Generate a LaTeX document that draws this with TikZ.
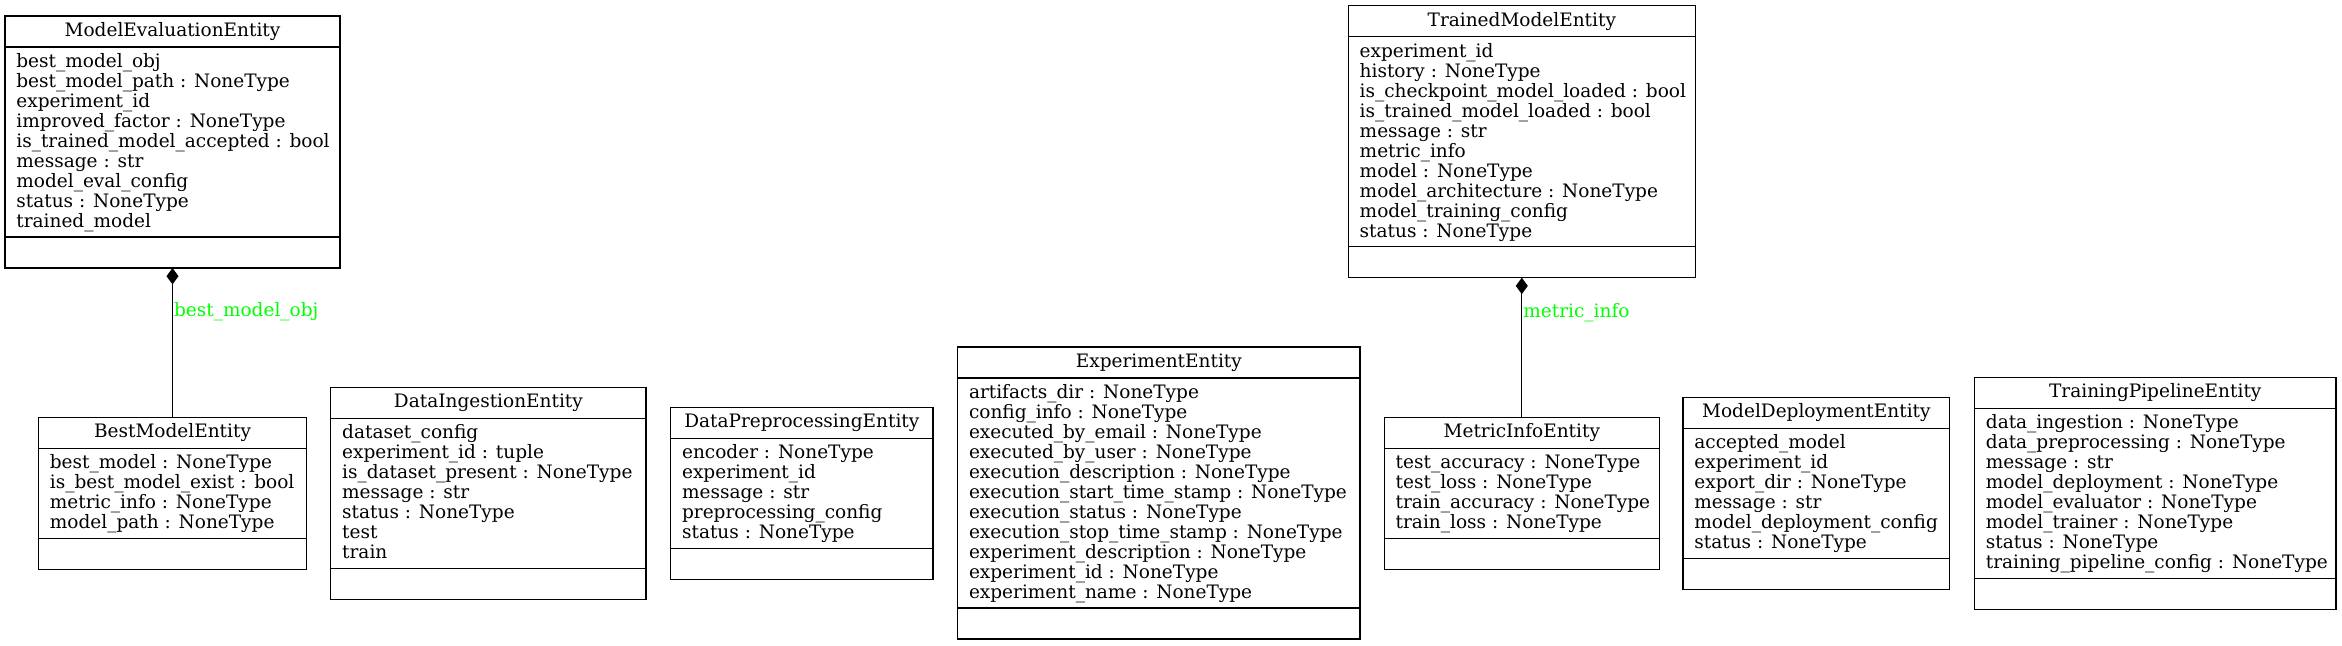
\documentclass[tikz,border=0pt]{standalone}
\usepackage{fontspec}
\setmainfont{DejaVu Serif}
\usetikzlibrary{arrows.meta}
\definecolor{rolegreen}{RGB}{0,255,0}
\tikzset{
  clsbox/.style={draw=black, line width=0.6pt, anchor=north west, inner sep=0pt, outer sep=0pt},
  divline/.style={draw=black, line width=0.6pt},
  titletext/.style={anchor=base, inner sep=0pt, font=\fontsize{9.25}{10}\selectfont},
  attrtext/.style={anchor=north west, inner sep=0pt, align=left, font=\fontsize{9.25}{10}\selectfont},
  comp/.style={draw=black, line width=0.6pt, -{Diamond[length=8.2pt,width=6pt]}},
  rolelabel/.style={anchor=west, inner sep=0.5pt, text=rolegreen, font=\fontsize{9.25}{10}\selectfont},
}
\newcommand\mkclass[7]{%
  \pgfmathsetmacro\mkw{(#4-#2)*0.5}%
  \pgfmathsetmacro\mkh{(72+20*#5)*0.5}%
  \node[clsbox, minimum width=\mkw pt, minimum height=\mkh pt] (#1) at (#2,#3) {};
  \draw[divline] ([yshift=-15.5pt]#1.north west) -- ([yshift=-15.5pt]#1.north east);
  \draw[divline] ([yshift=15.5pt]#1.south west) -- ([yshift=15.5pt]#1.south east);
  \node[titletext] (#1-t) at ([yshift=-10.15pt]#1.north) {#6};
  \node[attrtext] (#1-a) at ([xshift=5.5pt,yshift=-17.5pt]#1.north west) {\rule{0pt}{8pt}#7};
}
\begin{document}
\begin{tikzpicture}[x=0.5pt,y=-0.5pt]
\useasboundingbox (0,0) rectangle (2342,645);

\mkclass{ME}{5}{16}{340}{9}{ModelEvaluationEntity}{best\_model\_obj\\best\_model\_path : NoneType\\experiment\_id\\improved\_factor : NoneType\\is\_trained\_model\_accepted : bool\\message : str\\model\_eval\_config\\status : NoneType\\trained\_model}

\mkclass{BM}{38.5}{417.3}{306.5}{4}{BestModelEntity}{best\_model : NoneType\\is\_best\_model\_exist : bool\\metric\_info : NoneType\\model\_path : NoneType}

\mkclass{DI}{330.8}{387.3}{646}{7}{DataIngestionEntity}{dataset\_config\\experiment\_id : tuple\\is\_dataset\_present : NoneType\\message : str\\status : NoneType\\test\\train}

\mkclass{DP}{670.7}{407.3}{932.9}{5}{DataPreprocessingEntity}{encoder : NoneType\\experiment\_id\\message : str\\preprocessing\_config\\status : NoneType}

\mkclass{EE}{957.6}{347}{1360}{11}{ExperimentEntity}{artifacts\_dir : NoneType\\config\_info : NoneType\\executed\_by\_email : NoneType\\executed\_by\_user : NoneType\\execution\_description : NoneType\\execution\_start\_time\_stamp : NoneType\\execution\_status : NoneType\\execution\_stop\_time\_stamp : NoneType\\experiment\_description : NoneType\\experiment\_id : NoneType\\experiment\_name : NoneType}

\mkclass{TM}{1348.3}{5.7}{1695.3}{10}{TrainedModelEntity}{experiment\_id\\history : NoneType\\is\_checkpoint\_model\_loaded : bool\\is\_trained\_model\_loaded : bool\\message : str\\metric\_info\\model : NoneType\\model\_architecture : NoneType\\model\_training\_config\\status : NoneType}

\mkclass{MI}{1384.3}{417.3}{1659.3}{4}{MetricInfoEntity}{test\_accuracy : NoneType\\test\_loss : NoneType\\train\_accuracy : NoneType\\train\_loss : NoneType}

\mkclass{MD}{1683}{397.3}{1949.7}{6}{ModelDeploymentEntity}{accepted\_model\\experiment\_id\\export\_dir : NoneType\\message : str\\model\_deployment\_config\\status : NoneType}

\mkclass{TP}{1974.5}{377.3}{2336}{8}{TrainingPipelineEntity}{data\_ingestion : NoneType\\data\_preprocessing : NoneType\\message : str\\model\_deployment : NoneType\\model\_evaluator : NoneType\\model\_trainer : NoneType\\status : NoneType\\training\_pipeline\_config : NoneType}

\draw[comp] (BM.north) -- node[rolelabel, pos=0.705] {best\_model\_obj} (ME.south);
\draw[comp] (MI.north) -- node[rolelabel, pos=0.752] {metric\_info} (TM.south);
\end{tikzpicture}
\end{document}
